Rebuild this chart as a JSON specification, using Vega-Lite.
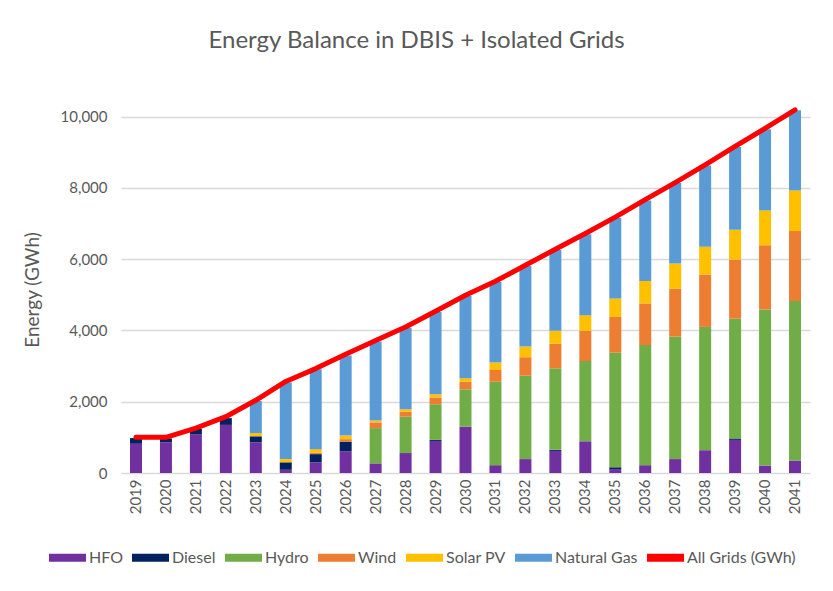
{
  "$schema": "https://vega.github.io/schema/vega-lite/v6.json",
  "width": 689,
  "height": 367,
  "padding": {"left": 23, "top": 29, "right": 14, "bottom": 18},
  "background": "white",
  "title": {
    "text": "Energy Balance in DBIS + Isolated Grids",
    "fontSize": 24,
    "font": "Lato",
    "fontWeight": "normal",
    "color": "#595959",
    "anchor": "middle",
    "frame": "bounds",
    "offset": 53
  },
  "config": {
    "font": "Lato",
    "view": {"stroke": null},
    "axis": {"labelColor": "#595959", "titleColor": "#595959", "labelFont": "Lato", "titleFont": "Lato"},
    "legend": {"labelColor": "#595959", "labelFont": "Lato"}
  },
  "datasets": {
    "gen": [
      {"year": "2019", "source": "HFO", "value": 820}, {"year": "2019", "source": "Diesel", "value": 160},
      {"year": "2020", "source": "HFO", "value": 860}, {"year": "2020", "source": "Diesel", "value": 110},
      {"year": "2021", "source": "HFO", "value": 1090}, {"year": "2021", "source": "Diesel", "value": 150},
      {"year": "2022", "source": "HFO", "value": 1350}, {"year": "2022", "source": "Diesel", "value": 190},
      {"year": "2023", "source": "HFO", "value": 860}, {"year": "2023", "source": "Diesel", "value": 170}, {"year": "2023", "source": "Solar PV", "value": 90}, {"year": "2023", "source": "Natural Gas", "value": 900},
      {"year": "2024", "source": "HFO", "value": 90}, {"year": "2024", "source": "Diesel", "value": 210}, {"year": "2024", "source": "Solar PV", "value": 90}, {"year": "2024", "source": "Natural Gas", "value": 2150},
      {"year": "2025", "source": "HFO", "value": 300}, {"year": "2025", "source": "Diesel", "value": 230}, {"year": "2025", "source": "Wind", "value": 40}, {"year": "2025", "source": "Solar PV", "value": 100}, {"year": "2025", "source": "Natural Gas", "value": 2240},
      {"year": "2026", "source": "HFO", "value": 610}, {"year": "2026", "source": "Diesel", "value": 270}, {"year": "2026", "source": "Wind", "value": 70}, {"year": "2026", "source": "Solar PV", "value": 100}, {"year": "2026", "source": "Natural Gas", "value": 2250},
      {"year": "2027", "source": "HFO", "value": 270}, {"year": "2027", "source": "Hydro", "value": 990}, {"year": "2027", "source": "Wind", "value": 160}, {"year": "2027", "source": "Solar PV", "value": 50}, {"year": "2027", "source": "Natural Gas", "value": 2220},
      {"year": "2028", "source": "HFO", "value": 560}, {"year": "2028", "source": "Hydro", "value": 1020}, {"year": "2028", "source": "Wind", "value": 140}, {"year": "2028", "source": "Solar PV", "value": 70}, {"year": "2028", "source": "Natural Gas", "value": 2290},
      {"year": "2029", "source": "HFO", "value": 900}, {"year": "2029", "source": "Diesel", "value": 30}, {"year": "2029", "source": "Hydro", "value": 1000}, {"year": "2029", "source": "Wind", "value": 190}, {"year": "2029", "source": "Solar PV", "value": 90}, {"year": "2029", "source": "Natural Gas", "value": 2310},
      {"year": "2030", "source": "HFO", "value": 1300}, {"year": "2030", "source": "Hydro", "value": 1050}, {"year": "2030", "source": "Wind", "value": 210}, {"year": "2030", "source": "Solar PV", "value": 100}, {"year": "2030", "source": "Natural Gas", "value": 2310},
      {"year": "2031", "source": "HFO", "value": 220}, {"year": "2031", "source": "Hydro", "value": 2340}, {"year": "2031", "source": "Wind", "value": 330}, {"year": "2031", "source": "Solar PV", "value": 210}, {"year": "2031", "source": "Natural Gas", "value": 2260},
      {"year": "2032", "source": "HFO", "value": 390}, {"year": "2032", "source": "Hydro", "value": 2340}, {"year": "2032", "source": "Wind", "value": 520}, {"year": "2032", "source": "Solar PV", "value": 300}, {"year": "2032", "source": "Natural Gas", "value": 2260},
      {"year": "2033", "source": "HFO", "value": 620}, {"year": "2033", "source": "Diesel", "value": 30}, {"year": "2033", "source": "Hydro", "value": 2290}, {"year": "2033", "source": "Wind", "value": 690}, {"year": "2033", "source": "Solar PV", "value": 360}, {"year": "2033", "source": "Natural Gas", "value": 2270},
      {"year": "2034", "source": "HFO", "value": 890}, {"year": "2034", "source": "Hydro", "value": 2250}, {"year": "2034", "source": "Wind", "value": 850}, {"year": "2034", "source": "Solar PV", "value": 440}, {"year": "2034", "source": "Natural Gas", "value": 2270},
      {"year": "2035", "source": "HFO", "value": 110}, {"year": "2035", "source": "Diesel", "value": 50}, {"year": "2035", "source": "Hydro", "value": 3220}, {"year": "2035", "source": "Wind", "value": 1000}, {"year": "2035", "source": "Solar PV", "value": 520}, {"year": "2035", "source": "Natural Gas", "value": 2260},
      {"year": "2036", "source": "HFO", "value": 220}, {"year": "2036", "source": "Hydro", "value": 3370}, {"year": "2036", "source": "Wind", "value": 1170}, {"year": "2036", "source": "Solar PV", "value": 630}, {"year": "2036", "source": "Natural Gas", "value": 2260},
      {"year": "2037", "source": "HFO", "value": 390}, {"year": "2037", "source": "Hydro", "value": 3440}, {"year": "2037", "source": "Wind", "value": 1340}, {"year": "2037", "source": "Solar PV", "value": 710}, {"year": "2037", "source": "Natural Gas", "value": 2260},
      {"year": "2038", "source": "HFO", "value": 640}, {"year": "2038", "source": "Hydro", "value": 3460}, {"year": "2038", "source": "Wind", "value": 1470}, {"year": "2038", "source": "Solar PV", "value": 780}, {"year": "2038", "source": "Natural Gas", "value": 2280},
      {"year": "2039", "source": "HFO", "value": 930}, {"year": "2039", "source": "Diesel", "value": 40}, {"year": "2039", "source": "Hydro", "value": 3360}, {"year": "2039", "source": "Wind", "value": 1660}, {"year": "2039", "source": "Solar PV", "value": 840}, {"year": "2039", "source": "Natural Gas", "value": 2320},
      {"year": "2040", "source": "HFO", "value": 210}, {"year": "2040", "source": "Hydro", "value": 4380}, {"year": "2040", "source": "Wind", "value": 1800}, {"year": "2040", "source": "Solar PV", "value": 980}, {"year": "2040", "source": "Natural Gas", "value": 2280},
      {"year": "2041", "source": "HFO", "value": 350}, {"year": "2041", "source": "Hydro", "value": 4480}, {"year": "2041", "source": "Wind", "value": 1960}, {"year": "2041", "source": "Solar PV", "value": 1140}, {"year": "2041", "source": "Natural Gas", "value": 2250}
    ],
    "total": [
      {"year": "2019", "series": "All Grids (GWh)", "value": 1000},
      {"year": "2020", "series": "All Grids (GWh)", "value": 1000},
      {"year": "2021", "series": "All Grids (GWh)", "value": 1260},
      {"year": "2022", "series": "All Grids (GWh)", "value": 1580},
      {"year": "2023", "series": "All Grids (GWh)", "value": 2040},
      {"year": "2024", "series": "All Grids (GWh)", "value": 2570},
      {"year": "2025", "series": "All Grids (GWh)", "value": 2930},
      {"year": "2026", "series": "All Grids (GWh)", "value": 3330},
      {"year": "2027", "series": "All Grids (GWh)", "value": 3720},
      {"year": "2028", "series": "All Grids (GWh)", "value": 4100},
      {"year": "2029", "series": "All Grids (GWh)", "value": 4540},
      {"year": "2030", "series": "All Grids (GWh)", "value": 4990},
      {"year": "2031", "series": "All Grids (GWh)", "value": 5380},
      {"year": "2032", "series": "All Grids (GWh)", "value": 5830},
      {"year": "2033", "series": "All Grids (GWh)", "value": 6280},
      {"year": "2034", "series": "All Grids (GWh)", "value": 6720},
      {"year": "2035", "series": "All Grids (GWh)", "value": 7180},
      {"year": "2036", "series": "All Grids (GWh)", "value": 7670},
      {"year": "2037", "series": "All Grids (GWh)", "value": 8150},
      {"year": "2038", "series": "All Grids (GWh)", "value": 8650},
      {"year": "2039", "series": "All Grids (GWh)", "value": 9170},
      {"year": "2040", "series": "All Grids (GWh)", "value": 9670},
      {"year": "2041", "series": "All Grids (GWh)", "value": 10190}
    ]
  },
  "encoding": {
    "x": {
      "field": "year",
      "type": "ordinal",
      "scale": {"paddingInner": 0.6, "paddingOuter": 0.3},
      "axis": {
        "title": null,
        "labelAngle": -90,
        "labelFontSize": 15,
        "labelPadding": 6,
        "ticks": false,
        "domainColor": "#d9d9d9",
        "domainWidth": 1
      }
    },
    "y": {
      "field": "value",
      "type": "quantitative",
      "scale": {"domain": [0, 10300], "nice": false},
      "axis": {
        "title": "Energy (GWh)",
        "titleFontSize": 19,
        "titleFontWeight": "normal",
        "titlePadding": 18,
        "values": [0, 2000, 4000, 6000, 8000, 10000],
        "format": ",.0f",
        "labelFontSize": 15,
        "labelPadding": 14,
        "ticks": false,
        "domain": false,
        "gridColor": "#d9d9d9",
        "gridWidth": 1.3
      }
    }
  },
  "layer": [
    {
      "data": {"name": "gen"},
      "transform": [
        {"calculate": "indexof(['HFO','Diesel','Hydro','Wind','Solar PV','Natural Gas'], datum.source)", "as": "rank"}
      ],
      "mark": {"type": "bar", "size": 12},
      "encoding": {
        "y": {"field": "value", "type": "quantitative", "stack": "zero"},
        "order": {"field": "rank", "type": "quantitative", "sort": "ascending"},
        "color": {
          "field": "source",
          "type": "nominal",
          "scale": {
            "domain": ["HFO", "Diesel", "Hydro", "Wind", "Solar PV", "Natural Gas", "All Grids (GWh)"],
            "range": ["#7030A0", "#002060", "#70AD47", "#ED7D31", "#FFC000", "#5B9BD5", "#FF0000"]
          },
          "legend": {
            "title": null,
            "orient": "none",
            "legendX": -72,
            "legendY": 433,
            "direction": "horizontal",
            "symbolType": "M-1,-0.22H1V0.22H-1Z",
            "symbolSize": 1369,
            "symbolStrokeWidth": 0,
            "labelFontSize": 16,
            "labelOffset": 3,
            "columnPadding": 9
          }
        }
      }
    },
    {
      "data": {"name": "total"},
      "mark": {"type": "line", "strokeWidth": 5, "strokeCap": "round", "strokeJoin": "round", "clip": false},
      "encoding": {
        "color": {"field": "series", "type": "nominal"}
      }
    }
  ]
}
